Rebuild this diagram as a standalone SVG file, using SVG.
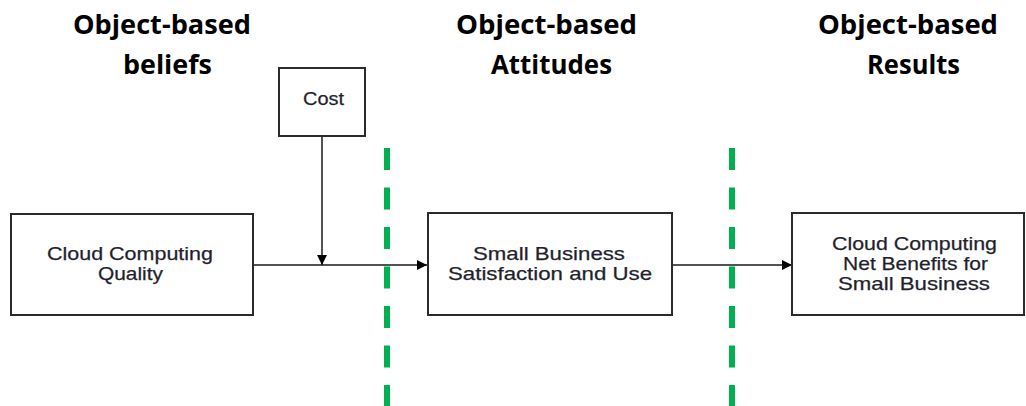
<svg xmlns="http://www.w3.org/2000/svg" width="1026" height="406" viewBox="0 0 1026 406">
<defs>
<style>
.hdr{font-family:"Open Sans","Liberation Sans",sans-serif;font-weight:bold;font-size:27px;fill:#000;text-anchor:middle}
.box{fill:#fff;stroke:#2b2b2b;stroke-width:2}
.lbl{font-family:"Liberation Sans",Arial,sans-serif;font-size:19px;fill:#1f1f2e;text-anchor:middle;stroke:#1f1f2e;stroke-width:0.25}
.conn{stroke:#1a1a1a;stroke-width:1.5;fill:none}
.sep{stroke:#00B050;stroke-width:6;stroke-dasharray:22 17.5;fill:none}
</style>
<marker id="arr" viewBox="0 0 10 10" refX="10" refY="5" markerWidth="11" markerHeight="10" markerUnits="userSpaceOnUse" orient="auto">
<path d="M0,0 L10,5 L0,10 z" fill="#000"/>
</marker>
</defs>
<rect width="1026" height="406" fill="#fff"/>
<g id="headers">
<text class="hdr" x="162" y="34" textLength="178" lengthAdjust="spacingAndGlyphs">Object-based</text>
<text class="hdr" x="167.5" y="74" textLength="89" lengthAdjust="spacingAndGlyphs">beliefs</text>
<text class="hdr" x="546.5" y="34" textLength="181" lengthAdjust="spacingAndGlyphs">Object-based</text>
<text class="hdr" x="551.5" y="74" textLength="121" lengthAdjust="spacingAndGlyphs">Attitudes</text>
<text class="hdr" x="908" y="34" textLength="180" lengthAdjust="spacingAndGlyphs">Object-based</text>
<text class="hdr" x="913.5" y="74" textLength="93" lengthAdjust="spacingAndGlyphs">Results</text>
</g>
<g id="separators">
<line class="sep" x1="387" y1="148" x2="387" y2="406"/>
<line class="sep" x1="732" y1="148" x2="732" y2="406"/>
</g>
<g id="connectors">
<line class="conn" x1="253" y1="265" x2="427" y2="265" marker-end="url(#arr)"/>
<line class="conn" x1="322" y1="136" x2="322" y2="265" marker-end="url(#arr)"/>
<line class="conn" x1="672" y1="265" x2="792" y2="265" marker-end="url(#arr)"/>
</g>
<g id="node-quality">
<rect class="box" x="11" y="214" width="242" height="101"/>
<text class="lbl" x="130" y="260" textLength="166" lengthAdjust="spacingAndGlyphs">Cloud Computing</text>
<text class="lbl" x="130.5" y="280" textLength="65" lengthAdjust="spacingAndGlyphs">Quality</text>
</g>
<g id="node-cost">
<rect class="box" x="279" y="68" width="86" height="68"/>
<text class="lbl" x="323.5" y="105" textLength="41" lengthAdjust="spacingAndGlyphs">Cost</text>
</g>
<g id="node-satisfaction">
<rect class="box" x="428" y="213" width="244" height="102"/>
<text class="lbl" x="549" y="260" textLength="152" lengthAdjust="spacingAndGlyphs">Small Business</text>
<text class="lbl" x="550" y="280" textLength="204" lengthAdjust="spacingAndGlyphs">Satisfaction and Use</text>
</g>
<g id="node-benefits">
<rect class="box" x="792" y="213" width="232" height="102"/>
<text class="lbl" x="914.5" y="250" textLength="165" lengthAdjust="spacingAndGlyphs">Cloud Computing</text>
<text class="lbl" x="915.5" y="270" textLength="145" lengthAdjust="spacingAndGlyphs">Net Benefits for</text>
<text class="lbl" x="914" y="290" textLength="152" lengthAdjust="spacingAndGlyphs">Small Business</text>
</g>
</svg>
